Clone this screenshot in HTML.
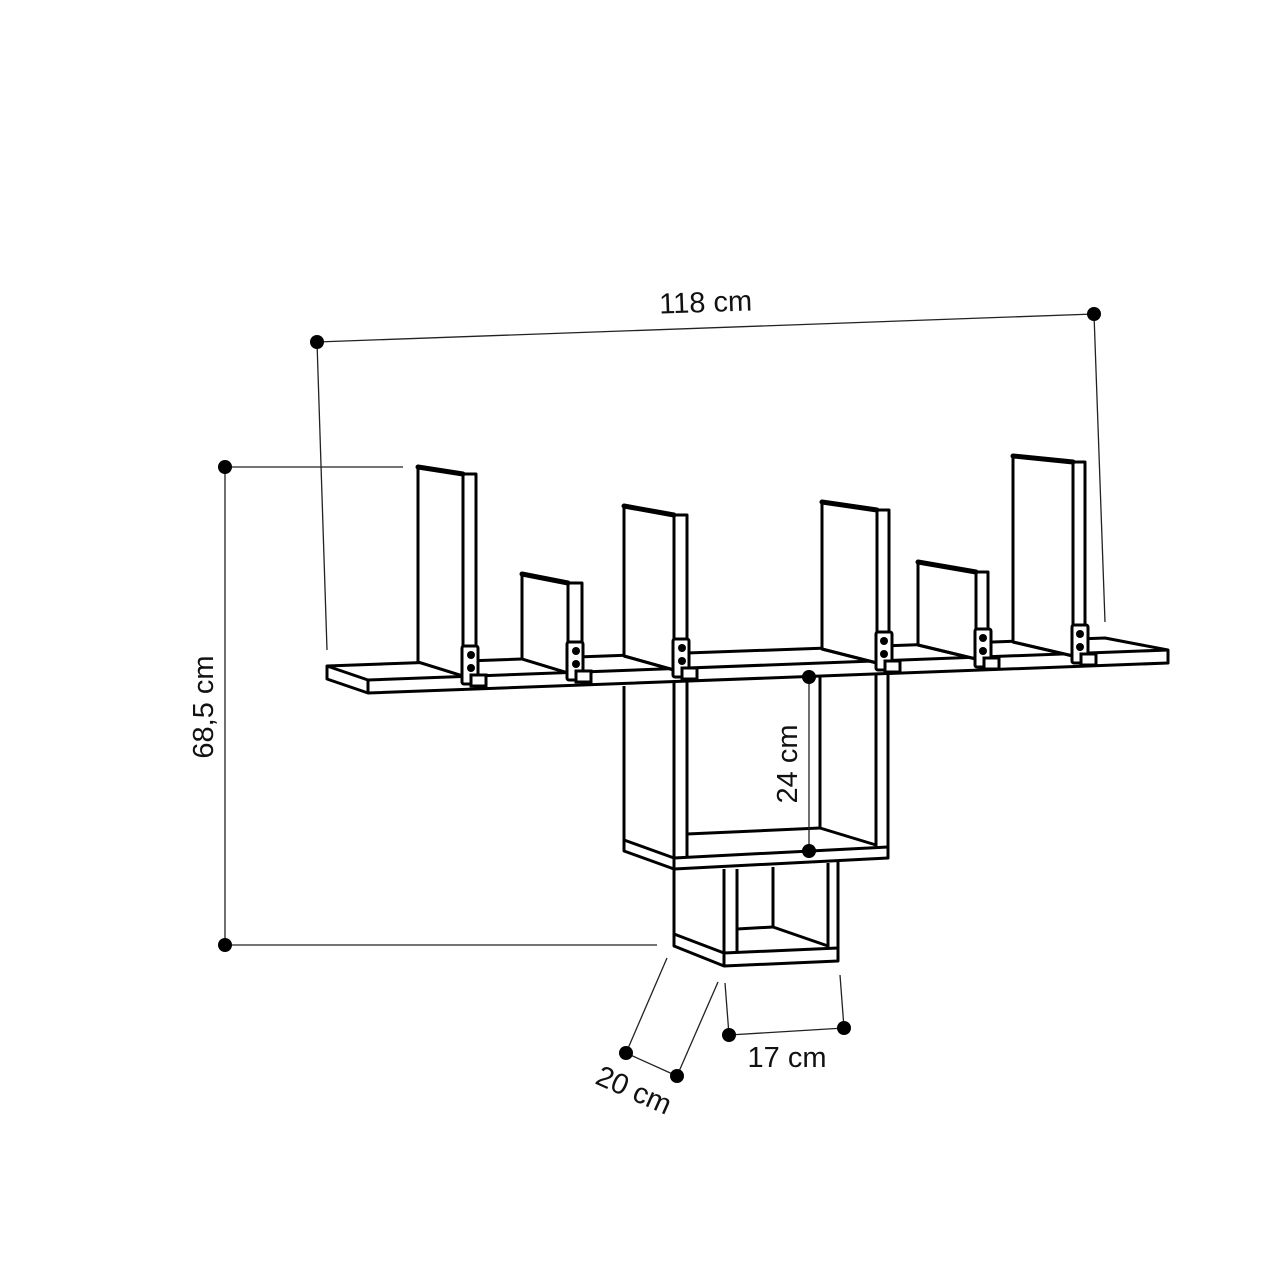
<!DOCTYPE html>
<html><head><meta charset="utf-8"><style>
html,body{margin:0;padding:0;background:#fff}
svg{display:block}
text{font-family:"Liberation Sans",sans-serif;font-size:29px;fill:#111}
</style></head><body>
<svg width="1280" height="1280" viewBox="0 0 1280 1280" xmlns="http://www.w3.org/2000/svg">
<g fill="none" stroke="#000" stroke-width="3" stroke-linejoin="round">
<polygon points="327,666 1105,638 1168,650 1168,663 368,693 327,679" fill="#fff"/>
<line x1="368" y1="680" x2="1168" y2="650"/>
<line x1="368" y1="680" x2="327" y2="666"/>
<line x1="368" y1="680" x2="368" y2="693"/>
</g>
<g fill="#fff" stroke="#000" stroke-width="3" stroke-linejoin="round">
<polygon points="418,467 463,474 463,676 418,662"/>
<polygon points="463,474 476,474 476,676 463,676"/>
<polygon points="522,574 568,583 568,673 522,659"/>
<polygon points="568,583 582,583 582,673 568,673"/>
<polygon points="624,506 674,515 674,670 624,656"/>
<polygon points="674,515 687,515 687,670 674,670"/>
<polygon points="822,502 877,510 877,663 822,649"/>
<polygon points="877,510 889,510 889,663 877,663"/>
<polygon points="918,562 976,572 976,659 918,645"/>
<polygon points="976,572 988,572 988,659 976,659"/>
<polygon points="1013,456 1073,462 1073,656 1013,642"/>
<polygon points="1073,462 1085,462 1085,656 1073,656"/>
</g>
<g stroke="#000" stroke-width="5" fill="none" stroke-linecap="round">
<line x1="418" y1="467" x2="463" y2="474"/>
<line x1="522" y1="574" x2="568" y2="583"/>
<line x1="624" y1="506" x2="674" y2="515"/>
<line x1="822" y1="502" x2="877" y2="510"/>
<line x1="918" y1="562" x2="976" y2="572"/>
<line x1="1013" y1="456" x2="1073" y2="462"/>
</g>
<g stroke="#000" stroke-width="3" fill="none">
<line x1="418" y1="662" x2="463" y2="676"/>
<line x1="522" y1="659" x2="568" y2="673"/>
<line x1="624" y1="656" x2="674" y2="670"/>
<line x1="822" y1="649" x2="877" y2="663"/>
<line x1="918" y1="645" x2="976" y2="659"/>
<line x1="1013" y1="642" x2="1073" y2="656"/>
</g>
<g fill="#fff" stroke="#000" stroke-width="3">
<rect x="462" y="646" width="16" height="38" rx="2"/><rect x="471" y="675" width="15" height="11"/>
<rect x="567" y="642" width="16" height="38" rx="2"/><rect x="576" y="671" width="15" height="11"/>
<rect x="673" y="639" width="16" height="38" rx="2"/><rect x="682" y="668" width="15" height="11"/>
<rect x="876" y="632" width="16" height="38" rx="2"/><rect x="885" y="661" width="15" height="11"/>
<rect x="975" y="629" width="16" height="38" rx="2"/><rect x="984" y="658" width="15" height="11"/>
<rect x="1072" y="625" width="16" height="38" rx="2"/><rect x="1081" y="654" width="15" height="11"/>
</g>
<g fill="#000">
<circle cx="471" cy="655" r="4"/><circle cx="471" cy="668" r="4"/>
<circle cx="576" cy="651" r="4"/><circle cx="576" cy="664" r="4"/>
<circle cx="682" cy="648" r="4"/><circle cx="682" cy="661" r="4"/>
<circle cx="884" cy="641" r="4"/><circle cx="884" cy="654" r="4"/>
<circle cx="983" cy="638" r="4"/><circle cx="983" cy="651" r="4"/>
<circle cx="1080" cy="634" r="4"/><circle cx="1080" cy="647" r="4"/>
</g>
<g fill="none" stroke="#000" stroke-width="3" stroke-linejoin="round">
<line x1="624" y1="686" x2="624" y2="840"/>
<polygon points="624,840 674,858 888,847 888,858 674,869 624,851" fill="#fff"/>
<line x1="674" y1="858" x2="674" y2="869"/>
<line x1="674" y1="681" x2="674" y2="858"/>
<line x1="687" y1="681" x2="687" y2="858"/>
<line x1="876" y1="674" x2="876" y2="848"/>
<line x1="888" y1="674" x2="888" y2="848"/>
<line x1="820" y1="676" x2="820" y2="828"/>
<line x1="687" y1="834" x2="820" y2="828"/>
<line x1="820" y1="828" x2="876" y2="845"/>
<line x1="674" y1="869" x2="674" y2="934"/>
<polygon points="674,934 724,953 838,948 838,961 724,966 674,946" fill="#fff"/>
<line x1="724" y1="953" x2="724" y2="966"/>
<line x1="724" y1="869" x2="724" y2="953"/>
<line x1="737" y1="869" x2="737" y2="953"/>
<line x1="828" y1="863" x2="828" y2="948"/>
<line x1="838" y1="862" x2="838" y2="948"/>
<line x1="773" y1="867" x2="773" y2="927"/>
<line x1="737" y1="929" x2="773" y2="927"/>
<line x1="773" y1="927" x2="828" y2="946"/>
</g>
<g stroke="#222" stroke-width="1.3" fill="none">
<line x1="317" y1="342" x2="1094" y2="314"/>
<line x1="317" y1="342" x2="327" y2="650"/>
<line x1="1094" y1="314" x2="1105" y2="622"/>
<line x1="225" y1="467" x2="225" y2="945"/>
<line x1="225" y1="467" x2="403" y2="467"/>
<line x1="225" y1="945" x2="657" y2="945"/>
<line x1="809" y1="677" x2="809" y2="851"/>
<line x1="626" y1="1053" x2="677" y2="1076"/>
<line x1="626" y1="1053" x2="667" y2="958"/>
<line x1="677" y1="1076" x2="718" y2="982"/>
<line x1="729" y1="1035" x2="844" y2="1028"/>
<line x1="729" y1="1035" x2="725" y2="983"/>
<line x1="844" y1="1028" x2="840" y2="975"/>
</g>
<g fill="#000">
<circle cx="317" cy="342" r="7"/><circle cx="1094" cy="314" r="7"/>
<circle cx="225" cy="467" r="7"/><circle cx="225" cy="945" r="7"/>
<circle cx="809" cy="677" r="7"/><circle cx="809" cy="851" r="7"/>
<circle cx="626" cy="1053" r="7"/><circle cx="677" cy="1076" r="7"/>
<circle cx="729" cy="1035" r="7"/><circle cx="844" cy="1028" r="7"/>
</g>
<text x="706" y="312" text-anchor="middle" transform="rotate(-2 706 312)">118 cm</text>
<text x="0" y="0" text-anchor="middle" transform="translate(213 707) rotate(-90)">68,5 cm</text>
<text x="0" y="0" text-anchor="middle" transform="translate(797 764) rotate(-90)">24 cm</text>
<text x="0" y="0" text-anchor="middle" transform="translate(630 1099) rotate(24)">20 cm</text>
<text x="787" y="1067" text-anchor="middle">17 cm</text>
</svg>
</body></html>
